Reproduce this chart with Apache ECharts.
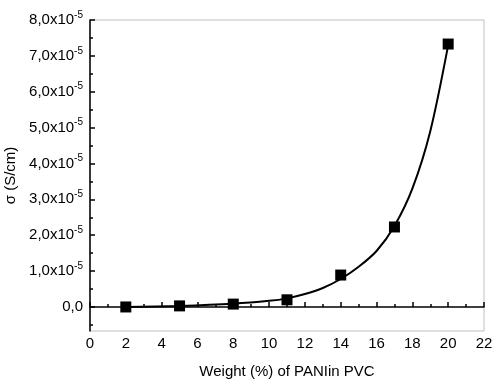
<!DOCTYPE html>
<html>
<head>
<meta charset="utf-8">
<script src="https://cdn.jsdelivr.net/npm/echarts@6/dist/echarts.min.js"></script>
<style>
  html, body { margin: 0; padding: 0; background: #fff; }
  #chart { width: 500px; height: 391px; }
</style>
</head>
<body>
<div id="chart"></div>
<script>
// weight % of PANI in PVC vs conductivity (measured points)
const weights = [2, 5, 8, 11, 14, 17, 20];
const sigma = [0.0, 0.03e-5, 0.08e-5, 0.2e-5, 0.89e-5, 2.23e-5, 7.33e-5];
// fitted curve
const fitX = [2, 5, 8, 10, 11, 12, 13, 14, 15, 16, 17, 18, 19, 20];
const fitY = [0.0, 0.03e-5, 0.09e-5, 0.17e-5, 0.24e-5, 0.36e-5, 0.53e-5, 0.78e-5,
              1.12e-5, 1.56e-5, 2.26e-5, 3.3e-5, 4.9e-5, 7.3e-5];
// y axis ticks (major labelled, minor unlabelled)
const yMajor = [0, 1e-5, 2e-5, 3e-5, 4e-5, 5e-5, 6e-5, 7e-5, 8e-5];
const yMinor = [-0.5e-5, 0.5e-5, 1.5e-5, 2.5e-5, 3.5e-5, 4.5e-5, 5.5e-5, 6.5e-5, 7.5e-5];

const font = '"Liberation Sans", Arial, sans-serif';
const yMin = -0.67e-5, yMax = 8e-5;

function yLabel(v) {
  if (Math.abs(v) < 1e-9) return '{b|0,0}';
  let s = (v / 1e-5).toFixed(1).replace('.', ',');
  return '{b|' + s + 'x10}{s|-5}';
}

const chart = echarts.init(document.getElementById('chart'));
chart.setOption({
  backgroundColor: '#fff',
  animation: false,
  grid: {
    left: 90, right: 16, top: 20, bottom: 60,
    containLabel: false, outerBoundsMode: 'none',
    show: true, borderColor: '#c0c0c0', borderWidth: 1
  },
  xAxis: {
    type: 'value',
    min: 0, max: 22, interval: 2,
    name: 'Weight (%) of PANIin PVC',
    nameLocation: 'middle',
    nameGap: 33,
    nameTextStyle: { fontFamily: font, fontSize: 15, color: '#000' },
    axisLine: { lineStyle: { color: '#000', width: 1.5 } },
    axisTick: { inside: true, length: 5, lineStyle: { color: '#000', width: 1.5 } },
    minorTick: { show: true, splitNumber: 2, length: 3, lineStyle: { color: '#000', width: 1.5 } },
    axisLabel: { fontFamily: font, fontSize: 15, color: '#000', margin: 5 },
    splitLine: { show: false }
  },
  yAxis: [{
    type: 'value',
    min: yMin, max: yMax,
    name: 'σ (S/cm)',
    nameLocation: 'middle',
    nameGap: 69,
    nameTextStyle: { fontFamily: font, fontSize: 15, color: '#000' },
    axisLine: { onZero: false, lineStyle: { color: '#000', width: 1.5 } },
    axisTick: { inside: true, length: 5, customValues: yMajor, lineStyle: { color: '#000', width: 1.5 } },
    axisLabel: {
      customValues: yMajor,
      margin: 7,
      formatter: yLabel,
      rich: {
        b: { fontFamily: font, fontSize: 15, color: '#000', lineHeight: 20 },
        s: { fontFamily: font, fontSize: 10, color: '#000', verticalAlign: 'top', lineHeight: 10 }
      }
    },
    splitLine: { show: false }
  }, {
    type: 'value',
    position: 'left',
    min: yMin, max: yMax,
    axisLine: { show: false },
    axisTick: { inside: true, length: 3, customValues: yMinor, lineStyle: { color: '#000', width: 1.5 } },
    axisLabel: { show: false },
    splitLine: { show: false }
  }],
  series: [{
    type: 'line',
    data: fitX.map((x, i) => [x, fitY[i]]),
    smooth: 0.3,
    showSymbol: false,
    lineStyle: { color: '#000', width: 2 }
  }, {
    type: 'scatter',
    data: weights.map((w, i) => [w, sigma[i]]),
    symbol: 'rect',
    symbolSize: 11,
    itemStyle: { color: '#000', opacity: 1 }
  }]
});
</script>
</body>
</html>
